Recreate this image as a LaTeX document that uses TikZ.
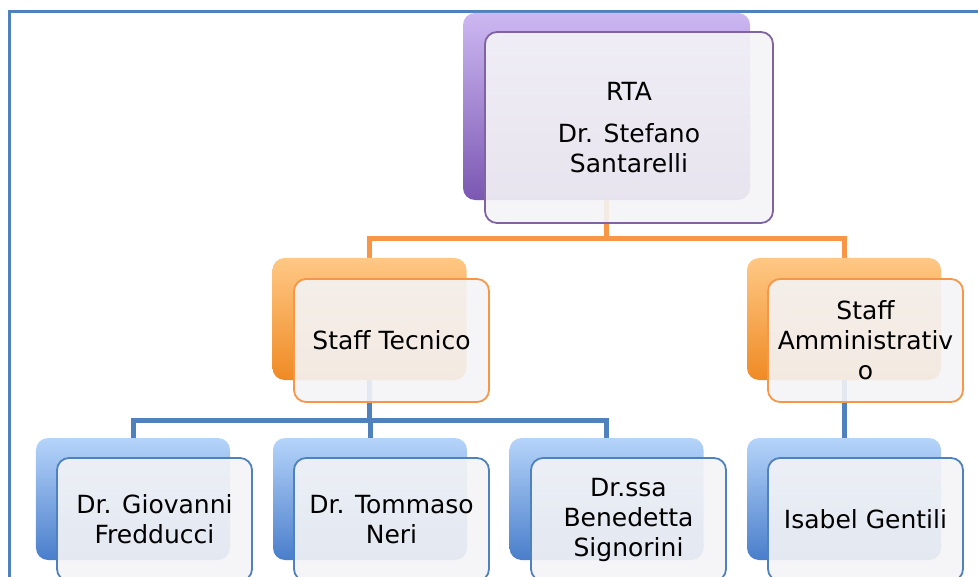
\documentclass[tikz,border=0pt]{standalone}
\usepackage{fontspec}
\setmainfont{DejaVu Sans}
\pgfdeclarelayer{bg}
\pgfsetlayers{bg,main}
\definecolor{framec}{HTML}{4F81BD}
\definecolor{orangeline}{HTML}{F79646}
\definecolor{blueline}{HTML}{4F81BD}
\definecolor{purpleborder}{HTML}{8064A2}
\definecolor{ptop}{HTML}{CDB8F2}
\definecolor{pmid}{HTML}{A385D6}
\definecolor{pbot}{HTML}{7B57B2}
\definecolor{otop}{HTML}{FFC885}
\definecolor{omid}{HTML}{FCA24A}
\definecolor{obot}{HTML}{EF8A24}
\definecolor{btop}{HTML}{B5D4FA}
\definecolor{bmid}{HTML}{7FAEEB}
\definecolor{bbot}{HTML}{4A7ECB}
\definecolor{frontfill}{HTML}{F4F4F6}
\begin{document}
\begin{tikzpicture}[x=1bp,y=-1bp,
  backbox/.style={rounded corners=12bp, minimum width=194bp, minimum height=122bp, inner sep=0pt, draw=none},
  pback/.style={backbox, top color=ptop, middle color=pmid, bottom color=pbot},
  oback/.style={backbox, top color=otop, middle color=omid, bottom color=obot},
  bback/.style={backbox, top color=btop, middle color=bmid, bottom color=bbot},
  frontbox/.style={rounded corners=12bp, minimum width=195bp, minimum height=123bp, inner sep=2bp, align=center,
    fill=frontfill, fill opacity=0.9, text opacity=1, line width=1.8bp,
    font=\fontsize{25bp}{30bp}\selectfont},
  pfront/.style={frontbox, draw=purpleborder},
  ofront/.style={frontbox, draw=orangeline},
  bfront/.style={frontbox, draw=blueline},
  oconn/.style={draw=orangeline, line width=5bp},
  bconn/.style={draw=blueline, line width=5bp},
]
\useasboundingbox (0,0) rectangle (978,577);

% back boxes
\node[pback, minimum width=287bp, minimum height=187bp] (rtab) at (606.5,106.5) {};
\node[oback] (stb) at (369.5,319) {};
\node[oback] (sab) at (844,319) {};
\node[bback] (gb) at (133,499) {};
\node[bback] (tb) at (370,499) {};
\node[bback] (sgb) at (606.5,499) {};
\node[bback] (ib) at (844,499) {};

% front boxes
\node[pfront, minimum width=288bp, minimum height=191bp] (rta) at (629,127.5) {RTA\\[12bp]Dr. Stefano\\Santarelli};
\node[ofront] (st) at (391.5,340.5) {Staff Tecnico};
\node[ofront] (sa) at (865.5,340.5) {Staff\\Amministrativ\\o};
\node[bfront] (g) at (154.5,519.5) {Dr. Giovanni\\Fredducci};
\node[bfront] (t) at (391.5,519.5) {Dr. Tommaso\\Neri};
\node[bfront] (sg) at (628.5,519.5) {Dr.ssa\\Benedetta\\Signorini};
\node[bfront] (i) at (865.5,519.5) {Isabel Gentili};

\coordinate (obus) at (0,239);
\coordinate (bbus) at (0,420);
\coordinate (fbl) at (9,577);
\coordinate (ftl) at (9,12);
\coordinate (ftr) at (978,12);

\begin{pgfonlayer}{bg}
  \draw[draw=framec, line width=3bp] (fbl) -- (ftl) -- (ftr);
  \draw[oconn] (rtab.south) -- (rtab.south |- obus);
  \draw[oconn] (stb.north) |- (rtab.south |- obus) -| (sab.north);
  \draw[bconn] (stb.south) -- (stb.south |- bbus);
  \draw[bconn] (gb.north) |- (sgb.north |- bbus) -- (sgb.north);
  \draw[bconn] (tb.north) -- (tb.north |- bbus);
  \draw[bconn] (sab.south) -- (ib.north);
\end{pgfonlayer}
\end{tikzpicture}
\end{document}
